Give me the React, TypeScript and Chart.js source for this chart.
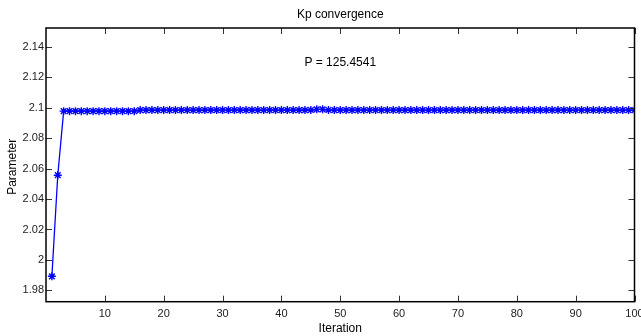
import React, { useEffect, useRef } from "react";
import { Chart, registerables } from "chart.js";

Chart.register(...registerables);

const iterations: number[] = [
  1, 2, 3, 4, 5, 6, 7, 8, 9, 10, 11, 12, 13, 14, 15, 16, 17, 18, 19, 20,
  21, 22, 23, 24, 25, 26, 27, 28, 29, 30, 31, 32, 33, 34, 35, 36, 37, 38, 39, 40,
  41, 42, 43, 44, 45, 46, 47, 48, 49, 50, 51, 52, 53, 54, 55, 56, 57, 58, 59, 60,
  61, 62, 63, 64, 65, 66, 67, 68, 69, 70, 71, 72, 73, 74, 75, 76, 77, 78, 79, 80,
  81, 82, 83, 84, 85, 86, 87, 88, 89, 90, 91, 92, 93, 94, 95, 96, 97, 98, 99, 100,
];

const kpValues: number[] = [
  1.9892, 2.0557, 2.0978, 2.0978, 2.0978, 2.0978, 2.0978, 2.0978, 2.0978, 2.0978,
  2.0978, 2.0978, 2.0978, 2.0978, 2.0978, 2.0985, 2.0985, 2.0985, 2.0985, 2.0985,
  2.0985, 2.0985, 2.0985, 2.0985, 2.0985, 2.0985, 2.0985, 2.0985, 2.0985, 2.0985,
  2.0985, 2.0985, 2.0985, 2.0985, 2.0985, 2.0985, 2.0985, 2.0985, 2.0985, 2.0985,
  2.0985, 2.0985, 2.0985, 2.0985, 2.0986, 2.0990, 2.0990, 2.0986, 2.0985, 2.0985,
  2.0985, 2.0985, 2.0985, 2.0985, 2.0985, 2.0985, 2.0985, 2.0985, 2.0985, 2.0985,
  2.0985, 2.0985, 2.0985, 2.0985, 2.0985, 2.0985, 2.0985, 2.0985, 2.0985, 2.0985,
  2.0985, 2.0985, 2.0985, 2.0985, 2.0985, 2.0985, 2.0985, 2.0985, 2.0985, 2.0985,
  2.0985, 2.0985, 2.0985, 2.0985, 2.0985, 2.0985, 2.0985, 2.0985, 2.0985, 2.0985,
  2.0985, 2.0985, 2.0985, 2.0985, 2.0985, 2.0985, 2.0985, 2.0985, 2.0985, 2.0985,
];

const xTicks: number[] = [10, 20, 30, 40, 50, 60, 70, 80, 90, 100];
const yTicks: number[] = [1.98, 2, 2.02, 2.04, 2.06, 2.08, 2.1, 2.12, 2.14];

const titleText = "Kp convergence";
const xTitle = "Iteration";
const yTitle = "Parameter";
const annotationText = "P = 125.4541";
const annotationX = 50;
const annotationY = 2.13;

const FONT = "'Liberation Sans', Arial, sans-serif";

export default function App() {
  const ref = useRef<HTMLCanvasElement | null>(null);

  useEffect(() => {
    document.body.style.margin = "0";
    const canvas = ref.current;
    if (!canvas) return;

    const framePlugin = {
      id: "frame",
      afterDraw(chart: any) {
        const { ctx, chartArea } = chart;
        const { left, right, top, bottom } = chartArea;
        const xs = chart.scales.x;
        const ys = chart.scales.y;
        ctx.save();
        ctx.strokeStyle = "#333";
        ctx.lineWidth = 1;
        const tl = 6;
        ctx.beginPath();
        for (const t of xTicks) {
          const px = Math.round(xs.getPixelForValue(t)) + 0.5;
          ctx.moveTo(px, bottom);
          ctx.lineTo(px, bottom - tl);
          ctx.moveTo(px, top);
          ctx.lineTo(px, top + tl);
        }
        for (const t of yTicks) {
          const py = Math.round(ys.getPixelForValue(t)) + 0.5;
          ctx.moveTo(left, py);
          ctx.lineTo(left + tl, py);
          ctx.moveTo(right, py);
          ctx.lineTo(right - tl, py);
        }
        ctx.stroke();
        ctx.strokeStyle = "#000";
        ctx.lineWidth = 1.5;
        ctx.strokeRect(left, top, right - left, bottom - top);
        ctx.fillStyle = "#000";
        ctx.textAlign = "center";
        ctx.textBaseline = "middle";
        ctx.font = `12px ${FONT}`;
        ctx.fillText(titleText, (left + right) / 2, 15);
        ctx.fillText(
          annotationText,
          xs.getPixelForValue(annotationX),
          ys.getPixelForValue(annotationY)
        );
        ctx.fillText(xTitle, (left + right) / 2, 329);
        ctx.translate(13, (top + bottom) / 2 + 2);
        ctx.rotate(-Math.PI / 2);
        ctx.fillText(yTitle, 0, 0);
        ctx.restore();
      },
    };

    const chart = new Chart(canvas, {
      type: "line",
      data: {
        labels: iterations,
        datasets: [
          {
            data: iterations.map((x, i) => ({ x, y: kpValues[i] })),
            borderColor: "#0000FF",
            backgroundColor: "#0000FF",
            borderWidth: 1.3,
            pointStyle: "star",
            pointRadius: 4,
            pointBorderWidth: 1.4,
            pointBorderColor: "#0000FF",
            tension: 0,
          },
        ],
      },
      options: {
        animation: false,
        responsive: false,
        maintainAspectRatio: false,
        layout: { padding: { top: 28, right: 6.5, left: 0, bottom: 0 } },
        plugins: {
          legend: { display: false },
          tooltip: { enabled: false },
          title: { display: false },
        },
        scales: {
          x: {
            type: "linear",
            min: 0,
            max: 100,
            afterBuildTicks: (scale: any) => {
              scale.ticks = xTicks.map((v) => ({ value: v }));
            },
            afterFit: (scale: any) => {
              scale.height = 34.3;
              scale.paddingLeft = 0;
              scale.paddingRight = 0;
            },
            grid: { display: false, drawTicks: false },
            border: { display: false },
            ticks: {
              color: "#222",
              font: { family: FONT, size: 11 },
              padding: 6,
              maxRotation: 0,
              autoSkip: false,
              callback: (v: any) => String(v),
            },
          },
          y: {
            type: "linear",
            min: 1.9725,
            max: 2.1525,
            afterBuildTicks: (scale: any) => {
              scale.ticks = yTicks.map((v) => ({ value: v }));
            },
            afterFit: (scale: any) => {
              scale.width = 46;
              scale.paddingTop = 0;
              scale.paddingBottom = 0;
            },
            grid: { display: false, drawTicks: false },
            border: { display: false },
            ticks: {
              color: "#222",
              font: { family: FONT, size: 11 },
              padding: 2,
              autoSkip: false,
              callback: (v: any) => String(Math.round(Number(v) * 100) / 100),
            },
          },
        },
      },
      plugins: [framePlugin],
    });

    return () => chart.destroy();
  }, []);

  return (
    <div style={{ width: 641, height: 336 }}>
      <canvas ref={ref} width={641} height={336} style={{ display: "block" }} />
    </div>
  );
}
